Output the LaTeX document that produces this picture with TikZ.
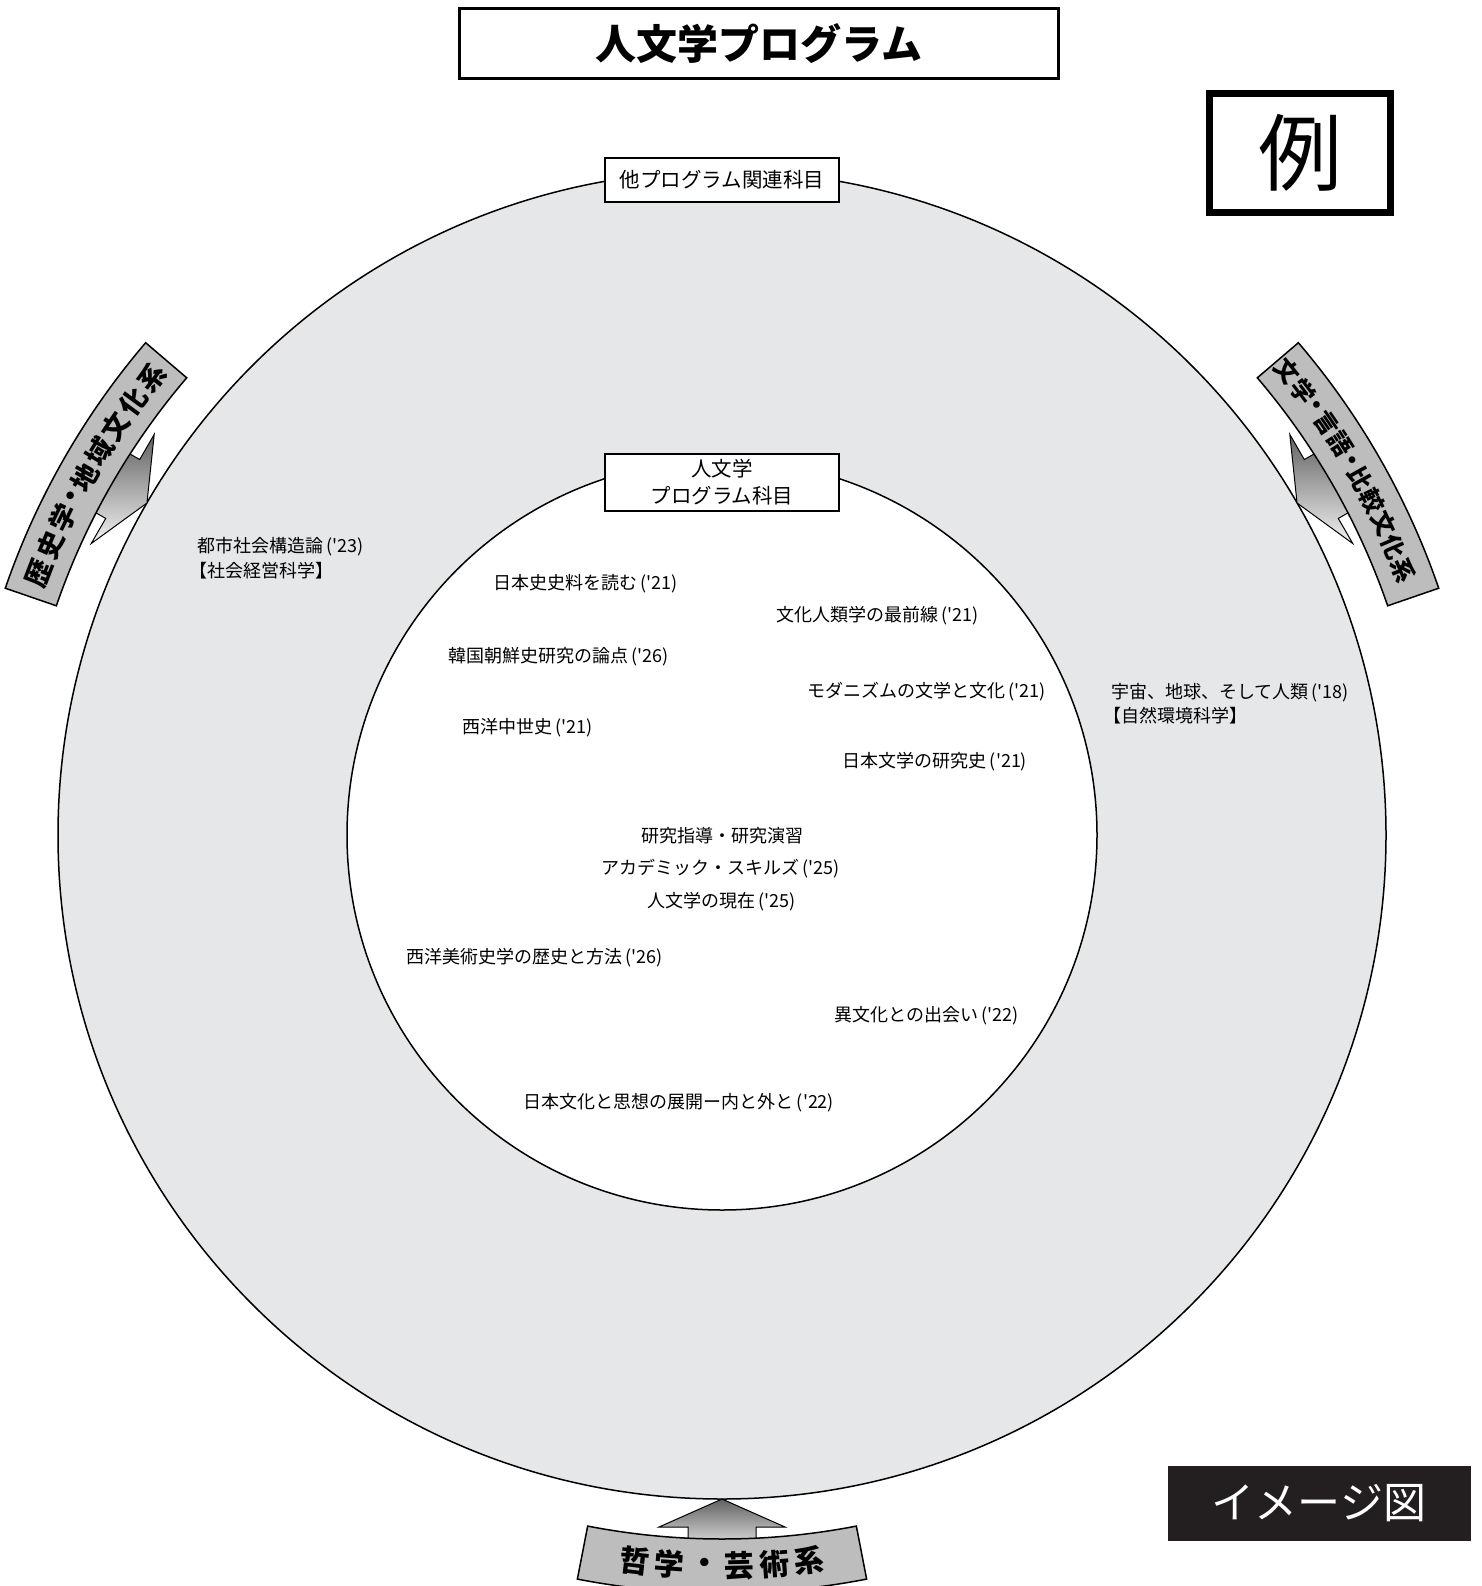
\documentclass[tikz,border=0pt]{standalone}
\usepackage{fontspec}
\newfontfamily\jp{Noto Sans CJK JP}
\usetikzlibrary{calc}
\definecolor{ringgray}{HTML}{E6E7E8}
\definecolor{bandgray}{HTML}{BDBDBD}
\definecolor{inkblack}{HTML}{231F20}
\newcommand\bandsector[2]{%
  \filldraw[bandsty] ($(C)+(#1:704)$) arc[start angle=#1,end angle=#2,radius=704]
    -- ($(C)+(#2:758)$) arc[start angle=#2,end angle=#1,radius=758] -- cycle;}
\newcommand\bigarrow[1]{%
  \shadedraw[arrowsty] ($(C)+(#1:664)$)
    -- ($(C)+(#1:692)+(#1+90:63)$) -- ($(C)+(#1:692)+(#1+90:34)$)
    -- ($(C)+(#1:718)+(#1+90:34)$) -- ($(C)+(#1:718)+(#1-90:34)$)
    -- ($(C)+(#1:692)+(#1-90:34)$) -- ($(C)+(#1:692)+(#1-90:63)$) -- cycle;}
\newcommand\nb{\makebox[0.4em]{・}}
\begin{document}
\begin{tikzpicture}[x=1pt,y=1pt,
  every node/.style={font=\jp, inner sep=0pt},
  sm/.style={font=\jp\fontsize{18}{22}\selectfont},
  boxtxt/.style={font=\jp\fontsize{20.5}{27}\selectfont, draw, fill=white, line width=2.5, align=center},
  bandsty/.style={fill=bandgray, draw=black, line width=1.5},
  arrowsty/.style={top color=black!62, bottom color=black!5, draw=black, line width=1},
  bandtxtL/.style={font=\jp\bfseries\fontsize{27}{27}\selectfont},
  bandtxtR/.style={font=\jp\bfseries\fontsize{24}{24}\selectfont},
  bandtxtB/.style={font=\jp\bfseries\fontsize{30}{30}\selectfont}]
\useasboundingbox (0,0) rectangle (1481,-1586);
\fill[white] (0,0) rectangle (1481,-1586);
\coordinate (C) at (722,-835);
% rings
\filldraw[fill=ringgray, draw=black, line width=1.5] (C) circle[radius=664];
\filldraw[fill=white, draw=black, line width=1.5] (C) circle[radius=375];
% arrows and bands
\bigarrow{150}
\bigarrow{30}
\bigarrow{-90}
\bandsector{139.5}{161}
\bandsector{19}{40.5}
\bandsector{-101}{-79}
\foreach \a/\c [count=\i] in {159/歴,156.65/史,154.3/学,152.5/\nb,150.7/地,148.35/域,146/文,143.65/化,141.3/系}
  \node[bandtxtL, rotate=\a-90] (L\i) at ($(C)+(\a:731)$) {\c};
\foreach \a/\c [count=\i] in {39.4/文,37.4/学,35.85/\nb,34.3/言,32.3/語,30.75/\nb,29.2/比,27.2/較,25.2/文,23.2/化,21.2/系}
  \node[bandtxtR, rotate=\a-90] (R\i) at ($(C)+(\a:731)$) {\c};
\foreach \a/\c [count=\i] in {-96.875/哲,-94.125/学,-91.375/・,-88.625/芸,-85.875/術,-83.125/系}
  \node[bandtxtB, rotate=\a+90] (B\i) at ($(C)+(\a:731)$) {\c};
% title and legend boxes
\node[draw, line width=3, minimum width=599, minimum height=70,
  font=\jp\bfseries\fontsize{41}{48}\selectfont] (title) at (759,-43.5) {人文学プログラム};
\node[draw, line width=7, minimum width=181, minimum height=119,
  font=\jp\fontsize{84}{90}\selectfont] (rei) at (1300,-153) {例};
\node[fill=inkblack, text=white, minimum width=303, minimum height=75,
  font=\jp\fontsize{43}{48}\selectfont] (image) at (1319,-1503.5) {イメージ図};
% labelled boxes on the rings
\node[boxtxt, minimum width=234, minimum height=44] (other) at (722,-180) {他プログラム関連科目};
\node[boxtxt, minimum width=234, minimum height=57] (core) at (722,-482.5) {人文学\\プログラム科目};
% outer ring subjects
\node[sm, anchor=west] (o1) at (197,-547) {都市社会構造論\,('23)};
\node[sm, anchor=west] (o1b) at (189,-570.5) {【社会経営科学】};
\node[sm, anchor=west] (o2) at (1111,-693) {宇宙、地球、そして人類\,('18)};
\node[sm, anchor=west] (o2b) at (1103,-716) {【自然環境科学】};
% inner subjects
\node[sm] (i1) at (585.5,-584) {日本史史料を読む\,('21)};
\node[sm] (i2) at (877.5,-616) {文化人類学の最前線\,('21)};
\node[sm] (i3) at (558.5,-657) {韓国朝鮮史研究の論点\,('26)};
\node[sm] (i4) at (926.5,-692) {モダニズムの文学と文化\,('21)};
\node[sm] (i5) at (527.5,-728) {西洋中世史\,('21)};
\node[sm] (i6) at (935,-762) {日本文学の研究史\,('21)};
\node[sm] (i7) at (722,-836) {研究指導・研究演習};
\node[sm] (i8) at (720.5,-869) {アカデミック・スキルズ\,('25)};
\node[sm] (i9) at (721.5,-902) {人文学の現在\,('25)};
\node[sm] (i10) at (534.5,-958) {西洋美術史学の歴史と方法\,('26)};
\node[sm] (i11) at (926.5,-1016) {異文化との出会い\,('22)};
\node[sm] (i12) at (679,-1103) {日本文化と思想の展開ー内と外と\,('22)};
\end{tikzpicture}
\end{document}
